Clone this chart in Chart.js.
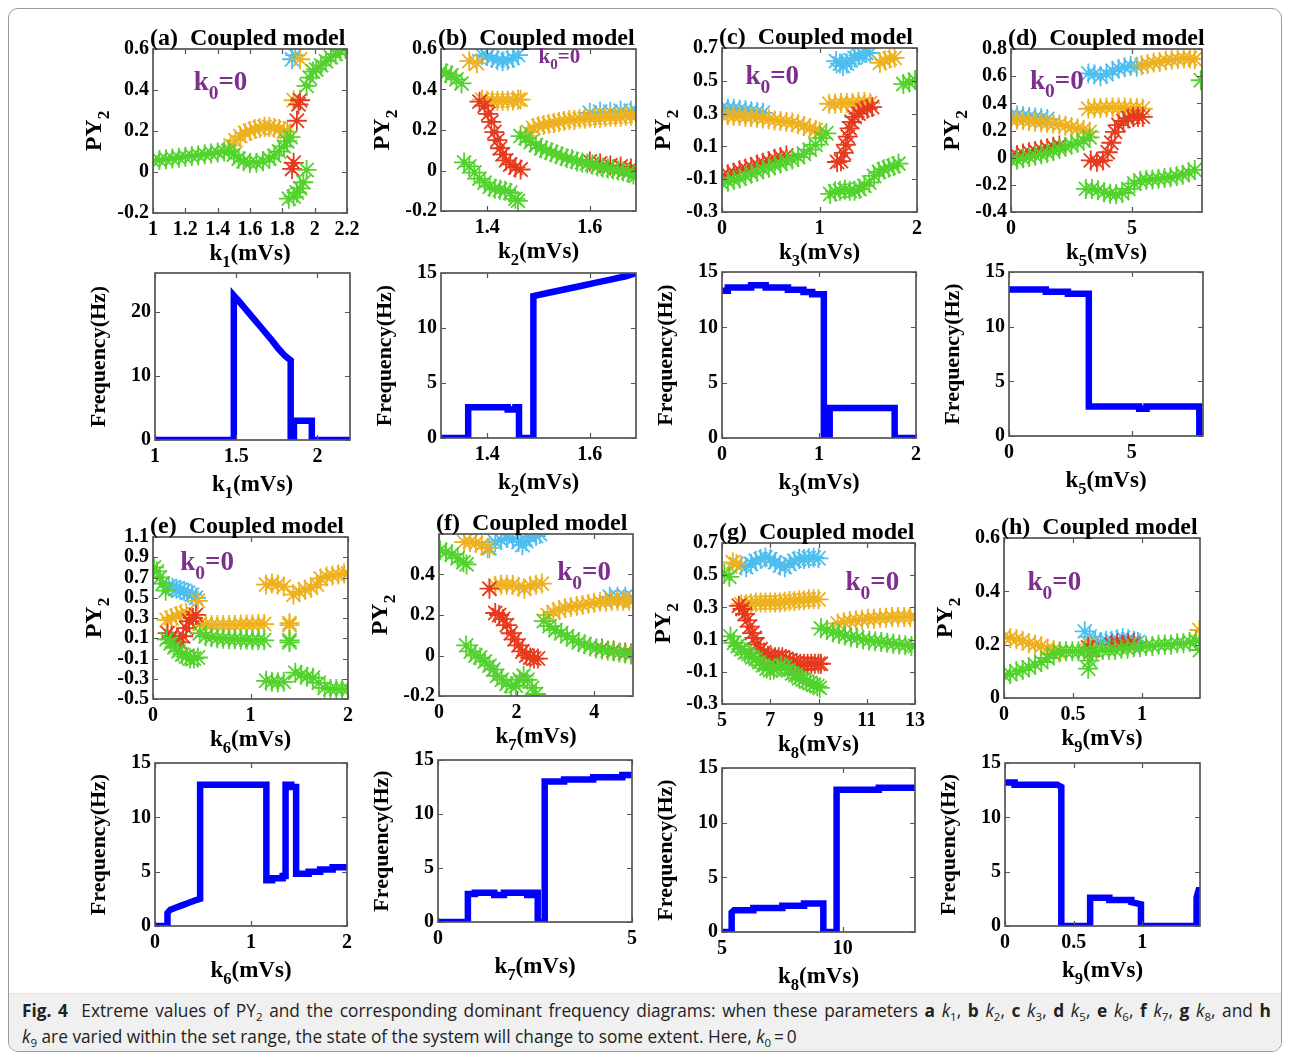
<!doctype html>
<html>
<head>
<title>Fig. 4</title>
<script src="https://cdn.jsdelivr.net/npm/chart.js@4.4.0/dist/chart.umd.min.js"></script>
<style>
  body { margin: 0; background: #fff; width: 1290px; height: 1060px; position: relative; overflow: hidden; }
  .frame { position: absolute; left: 8px; top: 8px; width: 1272px; height: 1042px; border: 1px solid #9a9a9a; border-radius: 10px; overflow: hidden; }
  .cap { position: absolute; left: 0; right: 0; bottom: 0; height: 58px; background: #f0f0f0; border-top: 1px solid #e2e2e2;
         font-family: "Open Sans", "Noto Sans", sans-serif; font-size: 17.3px; color: #222; padding: 0 10px 0 13px; box-sizing: border-box; }
  .cap div { line-height: 26px; white-space: nowrap; }
  .cap .l1 { margin-top: 4px; text-align: justify; text-align-last: justify; }
  .cap sub { font-size: 11.5px; line-height: 0; }
  canvas { position: absolute; }
</style>
</head>
<body>
<div class="frame">
  <div class="cap">
    <div class="l1"><b>Fig. 4</b>&nbsp; Extreme values of PY<sub>2</sub> and the corresponding dominant frequency diagrams: when these parameters <b>a</b> <i>k</i><sub>1</sub>, <b>b</b> <i>k</i><sub>2</sub>, <b>c</b> <i>k</i><sub>3</sub>, <b>d</b> <i>k</i><sub>5</sub>, <b>e</b> <i>k</i><sub>6</sub>, <b>f</b> <i>k</i><sub>7</sub>, <b>g</b> <i>k</i><sub>8</sub>, and <b>h</b></div>
    <div><i>k</i><sub>9</sub> are varied within the set range, the state of the system will change to some extent. Here, <i>k</i><sub>0</sub>&thinsp;=&thinsp;0</div>
  </div>
</div>
<script>
// ---- tick values ----
var aXT = [1, 1.2, 1.4, 1.6, 1.8, 2, 2.2], aYT = [-0.2, 0, 0.2, 0.4, 0.6];
var bXT = [1.4, 1.6], bYT = [-0.2, 0, 0.2, 0.4, 0.6];
var cXT = [0, 1, 2], cYT = [-0.3, -0.1, 0.1, 0.3, 0.5, 0.7];
var dXT = [0, 5], dYT = [-0.4, -0.2, 0, 0.2, 0.4, 0.6, 0.8];
var eXT = [0, 1, 2], eYT = [-0.5, -0.3, -0.1, 0.1, 0.3, 0.5, 0.7, 0.9, 1.1];
var fXT = [0, 2, 4], fYT = [-0.2, 0, 0.2, 0.4];
var gXT = [5, 7, 9, 11, 13], gYT = [-0.3, -0.1, 0.1, 0.3, 0.5, 0.7];
var hXT = [0, 0.5, 1], hYT = [0, 0.2, 0.4, 0.6];
var aFXT = [1, 1.5, 2], fqYT = [0, 5, 10, 15], aFYT = [0, 10, 20];
var gFXT = [5, 10], fFXT = [0, 5];

// ---- PY2 extreme values, [k, PY2] ----
var aGreen = [[1,.055],[1.04,.058],[1.08,.062],[1.12,.066],[1.16,.07],[1.2,.074],[1.24,.078],[1.28,.082],[1.32,.086],[1.36,.09],[1.4,.095],[1.44,.1],[1.47,.105],
  [1.5,.085],[1.53,.065],[1.56,.052],[1.6,.045],[1.64,.045],[1.68,.052],[1.72,.065],[1.75,.08],[1.78,.1],[1.81,.125],[1.83,.15],[1.85,.17],
  [1.84,-.13],[1.87,-.12],[1.89,-.1],[1.91,-.08],[1.93,-.05],[1.95,.01],
  [1.95,.42],[1.97,.46],[1.99,.49],[2.01,.5],[2.04,.52],[2.07,.54],[2.1,.56],[2.13,.575],[2.16,.59],[2.19,.6]];
var aRed = [[1.91,.35],[1.9,.33],[1.89,.25],[1.87,.045],[1.86,.015]];
var aYellow = [[1.48,.13],[1.51,.155],[1.54,.175],[1.57,.19],[1.6,.2],[1.63,.21],[1.66,.215],[1.69,.22],[1.72,.22],[1.75,.215],[1.78,.21],[1.81,.2],[1.83,.195],[1.87,.35],[1.91,.55]];
var aCyan = [[1.86,.55],[1.88,.57]];

var bGreen = [[1.31,.49],[1.32,.48],[1.33,.47],[1.34,.45],[1.35,.43],
  [1.355,.04],[1.365,.02],[1.375,-.01],[1.385,-.04],[1.395,-.06],[1.405,-.08],[1.415,-.09],[1.425,-.095],[1.435,-.1],[1.445,-.11],[1.455,-.14],[1.46,-.15],
  [1.465,.17],[1.475,.16],[1.485,.14],[1.495,.125],[1.505,.11],[1.515,.1],[1.525,.09],[1.535,.08],[1.545,.07],[1.555,.06],[1.565,.055],[1.575,.045],[1.585,.04],[1.595,.035],
  [1.605,.03],[1.615,.02],[1.625,.015],[1.635,.01],[1.645,.005],[1.655,0],[1.665,-.005],[1.675,-.01],[1.685,-.02],[1.69,-.025]];
var bRed = [[1.385,.34],[1.395,.32],[1.402,.28],[1.408,.24],[1.414,.19],[1.42,.15],[1.425,.11],[1.43,.08],[1.437,.05],[1.445,.03],[1.455,.015],[1.465,.005],
  [1.6,.045],[1.62,.035],[1.64,.025],[1.66,.02],[1.68,.01],[1.69,.005]];
var bYellow = [[1.365,.54],[1.38,.53],
  [1.39,.35],[1.4,.345],[1.41,.345],[1.42,.345],[1.43,.345],[1.44,.345],[1.45,.345],[1.46,.35],[1.465,.35],
  [1.48,.19],[1.49,.21],[1.5,.22],[1.51,.225],[1.52,.23],[1.53,.235],[1.54,.24],[1.55,.245],[1.56,.25],[1.57,.25],[1.58,.255],[1.59,.255],[1.6,.26],
  [1.61,.26],[1.62,.26],[1.63,.265],[1.64,.265],[1.65,.265],[1.66,.265],[1.67,.27],[1.68,.27],[1.69,.27]];
var bCyan = [[1.39,.57],[1.4,.565],[1.41,.555],[1.42,.545],[1.43,.54],[1.44,.545],[1.45,.555],[1.46,.57],
  [1.6,.285],[1.62,.29],[1.64,.29],[1.66,.295],[1.68,.295],[1.69,.295]];

var cGreen = [[0,-.125],[.06,-.115],[.12,-.105],[.18,-.095],[.24,-.08],[.3,-.065],[.36,-.055],[.42,-.04],[.48,-.03],[.54,-.015],[.6,-.005],[.66,.01],[.72,.02],[.78,.035],[.84,.055],[.9,.08],[.96,.11],[1.02,.15],[1.07,.18],
  [1.11,-.19],[1.16,-.175],[1.21,-.17],[1.26,-.165],[1.31,-.17],[1.36,-.17],[1.41,-.16],[1.46,-.14],[1.51,-.12],[1.56,-.08],[1.61,-.055],[1.66,-.04],[1.71,-.03],[1.76,-.02],[1.81,-.005],
  [1.86,.48],[1.92,.49],[1.98,.505]];
var cRed = [[0,-.08],[.06,-.07],[.12,-.06],[.18,-.045],[.24,-.035],[.3,-.025],[.36,-.01],[.42,0],[.48,.01],[.54,.025],[.6,.035],[.66,.045],
  [1.18,.005],[1.22,.01],[1.25,.06],[1.27,.11],[1.29,.16],[1.31,.21],[1.33,.25],[1.36,.28],[1.4,.3],[1.44,.32],[1.49,.33],[1.54,.34]];
var cYellow = [[0,.29],[.06,.29],[.12,.285],[.18,.285],[.24,.28],[.3,.28],[.36,.275],[.42,.27],[.48,.265],[.54,.26],[.6,.255],[.66,.25],[.72,.245],[.78,.235],[.84,.225],[.9,.21],[.96,.2],[1,.19],
  [1.1,.36],[1.16,.36],[1.22,.365],[1.28,.365],[1.34,.365],[1.4,.37],[1.46,.37],[1.52,.365],
  [1.62,.61],[1.67,.625],[1.72,.635],[1.77,.64]];
var cCyan = [[0,.335],[.06,.33],[.12,.33],[.18,.325],[.24,.32],[.3,.315],[.36,.31],[.42,.305],
  [1.17,.62],[1.21,.605],[1.24,.59],[1.28,.605],[1.32,.625],[1.36,.64],[1.4,.655],[1.44,.665],[1.48,.67],[1.52,.67]];

var dGreen = [[0,-.02],[.25,-.015],[.5,-.005],[.75,.005],[1,.015],[1.25,.025],[1.5,.035],[1.75,.05],[2,.065],[2.25,.08],[2.5,.095],[2.75,.11],[3,.125],[3.25,.15],
  [3.1,-.23],[3.35,-.23],[3.6,-.24],[3.85,-.255],[4.1,-.265],[4.35,-.27],[4.6,-.26],[4.85,-.23],[5.1,-.19],[5.35,-.17],[5.6,-.165],[5.85,-.16],[6.1,-.155],[6.35,-.15],[6.6,-.145],[6.85,-.135],[7.1,-.125],[7.35,-.11],[7.6,-.09],
  [7.85,.57]];
var dRed = [[0,.015],[.25,.02],[.5,.03],[.75,.04],[1,.05],[1.25,.06],[1.5,.07],[1.75,.08],[2,.09],
  [3.3,-.02],[3.55,-.03],[3.8,-.02],[4,.04],[4.15,.11],[4.3,.19],[4.45,.24],[4.65,.27],[4.85,.29],[5.05,.3],[5.25,.3],[5.45,.3]];
var dYellow = [[0,.28],[.25,.28],[.5,.275],[.75,.27],[1,.265],[1.25,.26],[1.5,.255],[1.75,.25],[2,.245],[2.25,.235],[2.5,.225],[2.75,.215],[3,.205],[3.25,.19],
  [3.2,.36],[3.45,.365],[3.7,.365],[3.95,.37],[4.2,.37],[4.45,.37],[4.7,.37],[4.95,.365],[5.2,.365],[5.45,.36],
  [5.4,.68],[5.65,.69],[5.9,.7],[6.15,.705],[6.4,.715],[6.65,.72],[6.9,.725],[7.15,.73],[7.4,.73],[7.6,.725]];
var dCyan = [[0,.31],[.25,.31],[.5,.305],[.75,.3],[1,.295],[1.25,.29],[1.5,.285],
  [3.2,.62],[3.45,.615],[3.7,.6],[3.95,.615],[4.2,.64],[4.45,.655],[4.7,.665],[4.95,.675],[5.2,.67]];

var eGreen = [[.01,.8],[.04,.76],[.07,.7],[.1,.64],[.13,.57],
  [.14,.09],[.18,.05],[.22,.01],[.26,-.03],[.3,-.06],[.34,-.08],[.38,-.1],[.42,-.1],[.46,-.09],
  [.48,.15],[.54,.12],[.6,.11],[.66,.1],[.72,.095],[.78,.09],[.84,.09],[.9,.085],[.96,.085],[1.02,.08],[1.08,.08],[1.14,.08],
  [1.4,.08],[1.4,.06],
  [1.16,-.32],[1.22,-.33],[1.28,-.335],[1.34,-.33],[1.46,-.24],[1.52,-.26],[1.58,-.28],[1.64,-.29],[1.7,-.34],[1.76,-.39],[1.82,-.4],[1.88,-.4],[1.94,-.4],[2,-.4]];
var eRed = [[.15,.15],[.19,.12],[.23,.07],[.27,.06],[.31,.12],[.34,.2],[.37,.27],[.41,.3],[.44,.33]];
var eYellow = [[.14,.28],[.19,.3],[.24,.32],[.29,.34],[.34,.35],[.46,.47],
  [.48,.24],[.54,.235],[.6,.23],[.66,.23],[.72,.23],[.78,.23],[.84,.23],[.9,.235],[.96,.235],[1.02,.235],[1.08,.24],[1.14,.24],[1.4,.25],[1.4,.23],
  [1.16,.63],[1.22,.64],[1.28,.63],[1.34,.61],[1.44,.53],[1.5,.56],[1.56,.58],[1.62,.6],[1.68,.63],[1.72,.69],[1.78,.71],[1.84,.72],[1.9,.73],[1.96,.74],[2,.74]];
var eCyan = [[.16,.61],[.2,.6],[.24,.59],[.28,.58],[.32,.57],[.36,.55],[.4,.53],[.44,.5]];

var fGreen = [[.03,.52],[.18,.51],[.33,.5],[.48,.48],[.63,.46],[.71,.45],
  [.7,.05],[.82,.02],[.94,0],[1.06,-.01],[1.18,-.03],[1.3,-.05],[1.4,-.07],[1.5,-.1],[1.62,-.12],[1.74,-.14],[1.86,-.15],[1.98,-.15],[2.08,-.12],[2.18,-.1],[2.28,-.12],[2.4,-.16],[2.5,-.19],
  [2.7,.17],[2.85,.145],[3,.125],[3.15,.11],[3.3,.095],[3.45,.08],[3.6,.065],[3.75,.055],[3.9,.045],[4.05,.035],[4.2,.03],[4.35,.025],[4.5,.02],[4.65,.015],[4.8,.01],[4.95,.005]];
var fRed = [[1.3,.33],
  [1.45,.21],[1.55,.2],[1.65,.18],[1.75,.15],[1.85,.11],[1.95,.08],[2.05,.05],[2.15,.02],[2.25,0],[2.35,-.01],[2.45,-.015],[2.55,-.015],
  [4.2,.035],[4.5,.025],[4.8,.015],[4.95,.01]];
var fYellow = [[.65,.56],[.8,.56],[.95,.555],[1.1,.545],[1.25,.53],
  [1.45,.345],[1.6,.35],[1.75,.35],[1.9,.35],[2.05,.34],[2.2,.33],[2.35,.345],[2.5,.35],[2.65,.355],
  [2.8,.2],[2.95,.215],[3.1,.225],[3.25,.235],[3.4,.24],[3.55,.245],[3.7,.25],[3.85,.255],[4,.26],[4.15,.265],[4.3,.265],[4.45,.27],[4.6,.27],[4.75,.27],[4.9,.27],[5,.27]];
var fCyan = [[1.3,.53],[1.45,.56],[1.6,.57],[1.75,.58],[1.9,.575],[2.05,.56],[2.15,.545],[2.25,.565],[2.35,.585],[2.5,.59],[2.6,.6],
  [4.4,.29],[4.6,.29],[4.8,.29],[5,.285]];

var gGreen = [[5.1,.51],[5.3,.49],
  [5.35,.12],[5.5,.08],[5.65,.06],[5.8,.04],[5.95,.02],[6.1,.01],[6.25,-.01],[6.4,-.02],[6.55,-.04],[6.7,-.06],[6.85,-.08],[7,-.09],[7.15,-.085],[7.3,-.075],[7.45,-.06],
  [7.6,-.07],[7.75,-.09],[7.9,-.11],[8.05,-.12],[8.2,-.14],[8.35,-.15],[8.5,-.16],[8.65,-.17],[8.8,-.18],[8.95,-.19],[9.05,-.2],
  [9.1,.17],[9.35,.16],[9.6,.145],[9.85,.135],[10.1,.125],[10.35,.115],[10.6,.11],[10.85,.1],[11.1,.095],[11.35,.09],[11.6,.085],[11.85,.08],[12.1,.075],[12.35,.07],[12.6,.065],[12.85,.06],[13,.06]];
var gRed = [[5.7,.31],[5.85,.29],[5.95,.26],[6.05,.22],[6.15,.18],[6.25,.14],[6.35,.11],[6.45,.07],[6.6,.04],[6.75,.02],[6.9,0],[7.05,-.01],[7.2,-.01],[7.35,-.01],[7.5,-.01],
  [7.65,-.02],[7.8,-.03],[7.95,-.04],[8.1,-.045],[8.25,-.05],[8.4,-.05],[8.55,-.05],[8.7,-.05],[8.85,-.05],[9,-.05],[9.1,-.05]];
var gYellow = [[5.45,.58],[5.6,.57],
  [5.8,.32],[6,.32],[6.2,.325],[6.4,.33],[6.6,.33],[6.8,.33],[7,.33],[7.2,.33],[7.4,.33],[7.6,.335],[7.8,.34],[8,.34],[8.2,.345],[8.4,.345],[8.6,.35],[8.8,.35],[9,.35],
  [9.8,.2],[10.05,.21],[10.3,.215],[10.55,.22],[10.8,.225],[11.05,.23],[11.3,.23],[11.55,.235],[11.8,.235],[12.05,.24],[12.3,.24],[12.55,.24],[12.8,.24],[13,.24]];
var gCyan = [[5.8,.56],[6,.55],[6.2,.57],[6.4,.59],[6.6,.6],[6.8,.61],[7,.6],[7.2,.58],[7.4,.56],[7.6,.55],[7.8,.57],[8,.59],[8.2,.6],[8.4,.6],[8.6,.605],[8.8,.61],[9,.605]];

var hGreen = [[0,.085],[.045,.09],[.09,.1],[.135,.105],[.18,.115],[.225,.125],[.27,.135],[.315,.15],[.36,.165],[.405,.175],[.45,.175],[.495,.175],[.54,.175],[.58,.175],[.625,.175],
  [.67,.175],[.715,.18],[.76,.18],[.805,.18],[.85,.185],[.895,.185],[.94,.19],[.985,.19],[1.03,.195],[1.075,.195],[1.12,.2],[1.165,.2],[1.21,.2],[1.255,.205],[1.3,.205],[1.345,.21],[1.39,.215],
  [1.42,.18],[.61,.11],[.62,.14]];
var hRed = [[.61,.19],[.64,.18],[.78,.2],[.82,.205],[.86,.2],[.9,.205],[.94,.205]];
var hYellow = [[0,.23],[.045,.225],[.09,.22],[.135,.215],[.18,.205],[.225,.2],[.27,.195],[.315,.185],[.36,.18],[.4,.17],[.62,.2],[1.415,.255]];
var hCyan = [[.585,.25],[.62,.23],[.66,.215],[.7,.21],[.74,.215],[.78,.215],[.82,.22],[.86,.225],[.9,.22],[.94,.215],[.97,.21]];

// ---- dominant frequency, [k, Hz] ----
var aFreq = [[1,0],[1.485,0],[1.485,22.5],[1.52,21.5],[1.56,20.3],[1.6,19.1],[1.64,17.9],[1.68,16.7],[1.72,15.5],[1.76,14.2],[1.8,13.1],[1.835,12.4],[1.835,0],[1.855,0],[1.855,3],[1.965,3],[1.965,0],[2.2,0]];
var bFreq = [[1.31,0],[1.363,0],[1.363,2.8],[1.44,2.8],[1.44,2.6],[1.455,2.6],[1.455,2.8],[1.462,2.8],[1.462,0],[1.49,0],[1.49,12.9],[1.52,13.2],[1.55,13.5],[1.58,13.8],[1.61,14.1],[1.64,14.4],[1.67,14.7],[1.69,15]];
var cFreq = [[0,13.3],[.06,13.3],[.06,13.6],[.3,13.6],[.3,13.8],[.45,13.8],[.45,13.6],[.68,13.6],[.68,13.4],[.84,13.4],[.84,13.2],[.93,13.2],[.93,13],[1.05,13],[1.05,0],[1.11,0],[1.11,2.7],[1.78,2.7],[1.78,0],[2,0]];
var dFreq = [[0,13.4],[1.5,13.4],[1.5,13.2],[2.4,13.2],[2.4,13],[3.25,13],[3.25,2.7],[5.3,2.7],[5.3,2.5],[5.6,2.5],[5.6,2.7],[7.75,2.7],[7.75,.1],[7.9,.1]];
var eFreq = [[0,0],[.13,0],[.13,1.2],[.16,1.5],[.22,1.7],[.28,1.9],[.34,2.1],[.4,2.3],[.47,2.5],[.47,13],[1.16,13],[1.16,4.2],[1.22,4.2],[1.22,4.4],[1.33,4.4],[1.33,4.6],[1.36,4.6],[1.36,13],[1.42,13],[1.42,12.8],[1.47,12.8],[1.47,4.8],[1.6,4.8],[1.6,5],[1.72,5],[1.72,5.2],[1.85,5.2],[1.85,5.4],[2,5.4]];
var fFreq = [[0,0],[.77,0],[.77,2.6],[.95,2.6],[.95,2.7],[1.45,2.7],[1.45,2.5],[1.7,2.5],[1.7,2.7],[2.3,2.7],[2.3,2.5],[2.45,2.5],[2.45,2.7],[2.57,2.7],[2.57,0],[2.75,0],[2.75,13],[3.25,13],[3.25,13.2],[4,13.2],[4,13.4],[4.75,13.4],[4.75,13.6],[5,13.6]];
var gFreq = [[5,0],[5.4,0],[5.4,1.8],[5.5,2],[6.3,2],[6.3,2.2],[7.5,2.2],[7.5,2.4],[8.4,2.4],[8.4,2.6],[9.2,2.6],[9.2,0],[9.75,0],[9.75,13],[11.5,13],[11.5,13.2],[13,13.2]];
var hFreq = [[0,13.2],[.07,13.2],[.07,13],[.38,13],[.41,12.8],[.41,0],[.62,0],[.62,2.6],[.76,2.6],[.76,2.4],[.92,2.4],[.92,2.2],[.99,2],[.99,0],[1.395,0],[1.395,2.6],[1.41,3.3],[1.42,3.3]];

// ---- layout ----
var SERIF = '"Liberation Serif", "Times New Roman", serif';
var COLORS = ['#52d22c', '#e63a1e', '#edb120', '#4dbeee'];
var PADL = 82, PADT = 40, PADR = 30, PADB = 66;

var panels = [
  {k:'py', t:'(a)  Coupled model', s:'1', box:[153,49,194,164], xr:[1,2.2], yr:[-0.2,0.6], xt:aXT, yt:aYT, k0:[.21,.17,27], d:[aGreen,aRed,aYellow,aCyan]},
  {k:'py', t:'(b)  Coupled model', s:'2', box:[441,49,195,162], xr:[1.31,1.69], yr:[-0.2,0.6], xt:bXT, yt:bYT, k0:[.5,.02,21], d:[bGreen,bRed,bYellow,bCyan]},
  {k:'py', t:'(c)  Coupled model', s:'3', box:[722,48,195,164], xr:[0,2], yr:[-0.3,0.7], xt:cXT, yt:cYT, k0:[.12,.14,27], d:[cGreen,cRed,cYellow,cCyan]},
  {k:'py', t:'(d)  Coupled model', s:'5', box:[1011,49,191,163], xr:[0,7.9], yr:[-0.4,0.8], xt:dXT, yt:dYT, k0:[.1,.16,27], d:[dGreen,dRed,dYellow,dCyan]},
  {k:'fq', s:'1', box:[155,273,195,167], xr:[1,2.2], yr:[0,26], xt:aFXT, yt:aFYT, d:aFreq},
  {k:'fq', s:'2', box:[441,273,195,165], xr:[1.31,1.69], yr:[0,15], xt:bXT, yt:fqYT, d:bFreq},
  {k:'fq', s:'3', box:[722,272,194,166], xr:[0,2], yr:[0,15], xt:cXT, yt:fqYT, d:cFreq},
  {k:'fq', s:'5', box:[1009,272,194,164], xr:[0,7.9], yr:[0,15], xt:dXT, yt:fqYT, d:dFreq},
  {k:'py', t:'(e)  Coupled model', s:'6', box:[153,537,195,162], xr:[0,2], yr:[-0.5,1.1], xt:eXT, yt:eYT, k0:[.14,.12,27], d:[eGreen,eRed,eYellow,eCyan]},
  {k:'py', t:'(f)  Coupled model', s:'7', box:[439,534,194,162], xr:[0,5], yr:[-0.2,0.6], xt:fXT, yt:fYT, k0:[.61,.2,27], d:[fGreen,fRed,fYellow,fCyan]},
  {k:'py', t:'(g)  Coupled model', s:'8', box:[722,543,193,161], xr:[5,13], yr:[-0.3,0.7], xt:gXT, yt:gYT, k0:[.64,.21,27], d:[gGreen,gRed,gYellow,gCyan]},
  {k:'py', t:'(h)  Coupled model', s:'9', box:[1004,538,196,160], xr:[0,1.42], yr:[0,0.6], xt:hXT, yt:hYT, k0:[.12,.24,27], d:[hGreen,hRed,hYellow,hCyan]},
  {k:'fq', s:'6', box:[155,763,192,163], xr:[0,2], yr:[0,15], xt:eXT, yt:fqYT, d:eFreq},
  {k:'fq', s:'7', box:[438,760,194,162], xr:[0,5], yr:[0,15], xt:fFXT, yt:fqYT, d:fFreq},
  {k:'fq', s:'8', box:[722,768,193,164], xr:[5,13], yr:[0,15], xt:gFXT, yt:fqYT, d:gFreq},
  {k:'fq', s:'9', box:[1005,763,195,163], xr:[0,1.42], yr:[0,15], xt:hXT, yt:fqYT, d:hFreq}
];

function bold(sz) { return 'bold ' + sz + 'px ' + SERIF; }
// parts: [text, isSubscript]
function drawRich(ctx, parts, x, y, sz, align) {
  var w = 0;
  parts.forEach(function(p) { ctx.font = bold(p[1] ? sz * 0.72 : sz); w += ctx.measureText(p[0]).width; });
  var cx = align === 'left' ? x : x - w / 2;
  ctx.textAlign = 'left';
  ctx.textBaseline = 'alphabetic';
  parts.forEach(function(p) {
    ctx.font = bold(p[1] ? sz * 0.72 : sz);
    ctx.fillText(p[0], cx, y + (p[1] ? sz * 0.32 : 0));
    cx += ctx.measureText(p[0]).width;
  });
}

var deco = {
  id: 'deco',
  afterDraw: function(chart, args, o) {
    var ctx = chart.ctx, a = chart.chartArea, xs = chart.scales.x, ys = chart.scales.y;
    ctx.save();
    ctx.strokeStyle = '#555';
    ctx.lineWidth = 1.2;
    ctx.beginPath();
    xs.ticks.forEach(function(t) {
      var px = Math.round(xs.getPixelForValue(t.value)) + 0.5;
      ctx.moveTo(px, a.bottom); ctx.lineTo(px, a.bottom - 5);
      ctx.moveTo(px, a.top); ctx.lineTo(px, a.top + 5);
    });
    ys.ticks.forEach(function(t) {
      var py = Math.round(ys.getPixelForValue(t.value)) + 0.5;
      ctx.moveTo(a.left, py); ctx.lineTo(a.left + 5, py);
      ctx.moveTo(a.right, py); ctx.lineTo(a.right - 5, py);
    });
    ctx.stroke();
    ctx.lineWidth = 1.7;
    ctx.strokeRect(a.left, a.top, a.right - a.left, a.bottom - a.top);

    ctx.fillStyle = '#000';
    if (o.title) drawRich(ctx, [[o.title, 0]], a.left - 3, a.top - 4, 24, 'left');
    drawRich(ctx, o.xTitle, (a.left + a.right) / 2, a.bottom + o.xOff, 23, 'center');
    if (o.k0) {
      ctx.fillStyle = '#7e2f8e';
      drawRich(ctx, [['k', 0], ['0', 1], ['=0', 0]], a.left + o.k0[0] * (a.right - a.left), a.top + o.k0[1] * (a.bottom - a.top) + o.k0[2] * 0.5, o.k0[2], 'left');
      ctx.fillStyle = '#000';
    }
    ctx.translate(a.left - o.yOff, (a.top + a.bottom) / 2);
    ctx.rotate(-Math.PI / 2);
    drawRich(ctx, o.yTitle, 0, 0, o.ySize, 'center');
    ctx.restore();
  }
};

function toXY(p) { return {x: p[0], y: p[1]}; }
function fixTicks(list) { return function(scale) { scale.ticks = list.map(function(v) { return {value: v}; }); }; }

panels.forEach(function(p) {
  var L = p.box[0], T = p.box[1], W = p.box[2], H = p.box[3];
  var c = document.createElement('canvas');
  c.width = W + PADL + PADR;
  c.height = H + PADT + PADB;
  c.style.left = (L - PADL) + 'px';
  c.style.top = (T - PADT) + 'px';
  c.style.width = c.width + 'px';
  c.style.height = c.height + 'px';
  document.body.appendChild(c);

  var datasets;
  if (p.k === 'py') {
    datasets = p.d.map(function(s, i) {
      return {data: s.map(toXY), showLine: false, pointStyle: 'star', pointRadius: 10, pointHoverRadius: 10,
              pointBorderWidth: 1.8, borderColor: COLORS[i], backgroundColor: COLORS[i]};
    });
  } else {
    datasets = [{data: p.d.map(toXY), borderColor: '#0000ff', backgroundColor: '#0000ff', borderWidth: 6.5,
                 pointRadius: 0, tension: 0, fill: false, borderJoinStyle: 'miter', borderCapStyle: 'butt'}];
  }
  var tickFont = {family: SERIF, size: 20, weight: 'bold'};
  var xLab = [['k', 0], [p.s, 1], ['(mVs)', 0]];

  new Chart(c, {
    type: p.k === 'py' ? 'scatter' : 'line',
    data: {datasets: datasets},
    options: {
      responsive: false,
      animation: false,
      events: [],
      layout: {padding: {top: PADT, right: PADR, left: 0, bottom: 0}},
      plugins: {
        legend: {display: false},
        tooltip: {enabled: false},
        deco: {
          title: p.t,
          xTitle: xLab,
          xOff: p.k === 'py' ? 47 : 51,
          yTitle: p.k === 'py' ? [['PY', 0], ['2', 1]] : [['Frequency(Hz)', 0]],
          ySize: p.k === 'py' ? 24 : 22,
          yOff: p.k === 'py' ? 52 : 50,
          k0: p.k0
        }
      },
      scales: {
        x: {
          type: 'linear', min: p.xr[0], max: p.xr[1],
          grid: {display: false, drawTicks: false}, border: {display: false},
          afterBuildTicks: fixTicks(p.xt),
          afterFit: function(s) { s.height = PADB; },
          ticks: {font: tickFont, color: '#000', padding: 5, maxRotation: 0, autoSkip: false,
                  callback: function(v) { return String(v); }}
        },
        y: {
          type: 'linear', min: p.yr[0], max: p.yr[1],
          grid: {display: false, drawTicks: false}, border: {display: false},
          afterBuildTicks: fixTicks(p.yt),
          afterFit: function(s) { s.width = PADL; },
          ticks: {font: tickFont, color: '#000', padding: 4, autoSkip: false,
                  callback: function(v) { return String(v); }}
        }
      }
    },
    plugins: [deco]
  });
});
</script>
</body>
</html>
